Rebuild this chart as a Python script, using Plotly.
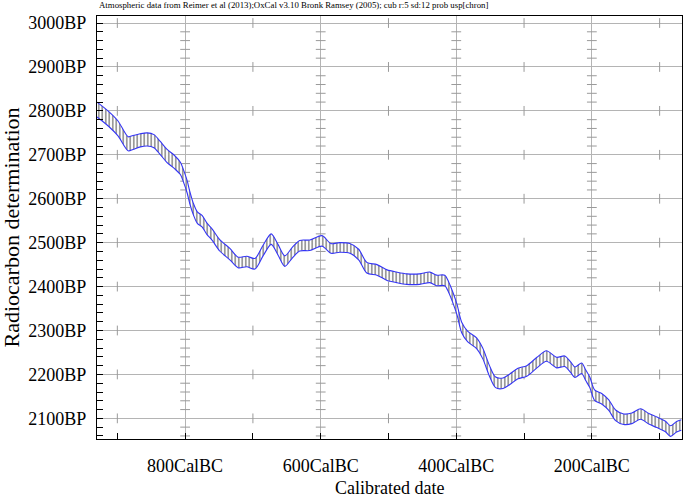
import plotly.graph_objects as go

# ---- data (calendar year BC, 14C age BP, 1-sigma BP) ----
year_bc = [930, 913, 899, 884, 877, 866, 856, 846, 837, 827, 816, 807, 802, 797, 793, 788,
           782, 775, 768, 760, 749, 734, 722, 709, 697, 685, 673, 663, 653, 642, 631, 616,
           598, 585, 572, 557, 544, 532, 517, 502, 488, 473, 454, 439, 429, 417, 411, 405,
           399, 392, 383, 370, 361, 351, 342, 331, 321, 309, 296, 281, 267, 252, 240, 231,
           225, 215, 209, 203, 196, 185, 175, 165, 153, 141, 128, 116, 104, 91, 84, 75, 68]
c14_bp = [2803, 2782, 2760, 2725, 2728, 2733, 2735, 2731, 2716, 2698, 2684, 2669, 2650, 2627, 2602, 2577,
          2557, 2549, 2532, 2518, 2494, 2474, 2455, 2457, 2452, 2482, 2508, 2484, 2458, 2477, 2493, 2494,
          2504, 2487, 2489, 2487, 2473, 2443, 2438, 2426, 2421, 2417, 2417, 2421, 2414, 2414, 2398, 2375,
          2348, 2307, 2286, 2271, 2248, 2208, 2182, 2180, 2189, 2202, 2208, 2227, 2242, 2227, 2230, 2216,
          2205, 2214, 2198, 2182, 2153, 2144, 2130, 2107, 2098, 2100, 2110, 2099, 2091, 2081, 2071, 2081, 2085]
sigma_bp = [17, 17, 17, 16, 16, 15, 15, 15, 15, 15, 15, 14, 14, 14, 14, 13,
            13, 13, 13, 13, 13, 13, 12, 12, 12, 12, 12, 12, 12, 12, 12, 12,
            12, 11, 11, 11, 12, 12, 12, 12, 12, 12, 12, 12, 12, 12, 12, 12,
            12, 12, 12, 12, 12, 12, 12, 12, 12, 12, 12, 12, 12, 12, 12, 12,
            12, 12, 12, 12, 12, 12, 12, 12, 12, 12, 12, 12, 12, 12, 12, 12, 12]

x_major = [800, 600, 400, 200]
x_labels = ["800CalBC", "600CalBC", "400CalBC", "200CalBC"]
x_minor = [900, 700, 500, 300, 100]
y_major = [2100, 2200, 2300, 2400, 2500, 2600, 2700, 2800, 2900, 3000]
y_labels = [f"{v}BP" for v in y_major]
y_minor = list(range(2060, 3020, 20))

title_text = ("Atmospheric data from Reimer et al (2013);OxCal v3.10 Bronk Ramsey (2005); "
              "cub r:5 sd:12 prob usp[chron]")

X_RANGE = [-930, -67]
Y_RANGE = [2053, 3016]

xs = [-v for v in year_bc]
upper = [c + s for c, s in zip(c14_bp, sigma_bp)]
lower = [c - s for c, s in zip(c14_bp, sigma_bp)]

BLUE = "#3535f5"
GRID = "#b4b4b4"
FONT = "Liberation Serif"

fig = go.Figure()

# small cross ticks on grid lines
cx, cy = [], []
for yv in y_major:
    for xv in x_minor:
        cx.append(-xv); cy.append(yv)
fig.add_trace(go.Scatter(x=cx, y=cy, mode="markers", hoverinfo="skip",
                         marker=dict(symbol="line-ns", size=7, line=dict(color="#9a9a9a", width=1)),
                         showlegend=False, cliponaxis=True))
hx, hy = [], []
for xv in x_major:
    for yv in y_minor:
        if yv % 100:
            hx.append(-xv); hy.append(yv)
fig.add_trace(go.Scatter(x=hx, y=hy, mode="markers", hoverinfo="skip",
                         marker=dict(symbol="line-ew", size=7, line=dict(color="#9a9a9a", width=1)),
                         showlegend=False, cliponaxis=True))

fig.add_trace(go.Scatter(x=xs, y=lower, mode="lines", line=dict(color=BLUE, width=1.1, shape="spline", smoothing=0.8),
                         showlegend=False, hoverinfo="skip"))
fig.add_trace(go.Scatter(x=xs, y=upper, mode="lines", line=dict(color=BLUE, width=1.1, shape="spline", smoothing=0.8),
                         fill="tonexty", fillcolor="rgba(255,255,255,0)",
                         fillpattern=dict(shape="|", size=3.5, solidity=0.4, fgcolor="#000000", bgcolor="white"),
                         showlegend=False, hoverinfo="skip"))

fig.update_layout(
    width=685, height=498,
    margin=dict(l=97, r=3, t=16, b=59),
    paper_bgcolor="white", plot_bgcolor="white",
    font=dict(family=FONT, size=18, color="black"),
    showlegend=False,
)
fig.update_xaxes(
    range=X_RANGE, tickmode="array", tickvals=[-v for v in x_major], ticktext=x_labels,
    showgrid=True, gridcolor=GRID, gridwidth=1, zeroline=False,
    showline=True, linecolor="black", linewidth=1, mirror=True,
    ticks="inside", ticklen=6, tickcolor="black",
    minor=dict(tickmode="array", tickvals=[-v for v in x_minor], ticks="inside", ticklen=6,
               tickcolor="black", showgrid=False),
    ticklabelstandoff=10, tickfont=dict(size=18, family=FONT), automargin=False,
)
fig.update_yaxes(
    range=Y_RANGE, tickmode="array", tickvals=y_major, ticktext=y_labels,
    showgrid=True, gridcolor=GRID, gridwidth=1, zeroline=False,
    showline=True, linecolor="black", linewidth=1, mirror=True,
    ticks="inside", ticklen=6, tickcolor="black",
    minor=dict(tickmode="array", tickvals=y_minor, ticks="inside", ticklen=6,
               tickcolor="black", showgrid=False),
    ticklabelstandoff=6, tickfont=dict(size=18, family=FONT), automargin=False,
)

fig.add_annotation(text=title_text, xref="paper", yref="paper", x=0, y=1.026,
                   xanchor="left", yanchor="middle", showarrow=False,
                   font=dict(size=8.8, family=FONT, color="black"))
fig.add_annotation(text="Calibrated date", xref="paper", yref="paper", x=0.5, y=-0.1158,
                   xanchor="center", yanchor="middle", showarrow=False,
                   font=dict(size=18, family=FONT, color="black"))
fig.add_annotation(text="Radiocarbon determination", xref="paper", yref="paper", x=-0.1453, y=0.5,
                   xanchor="center", yanchor="middle", textangle=-90, showarrow=False,
                   font=dict(size=22, family=FONT, color="black"))

fig.write_html("out.html", config={"displayModeBar": False},
               post_script="document.body.style.margin='0';document.body.style.overflow='hidden';")
